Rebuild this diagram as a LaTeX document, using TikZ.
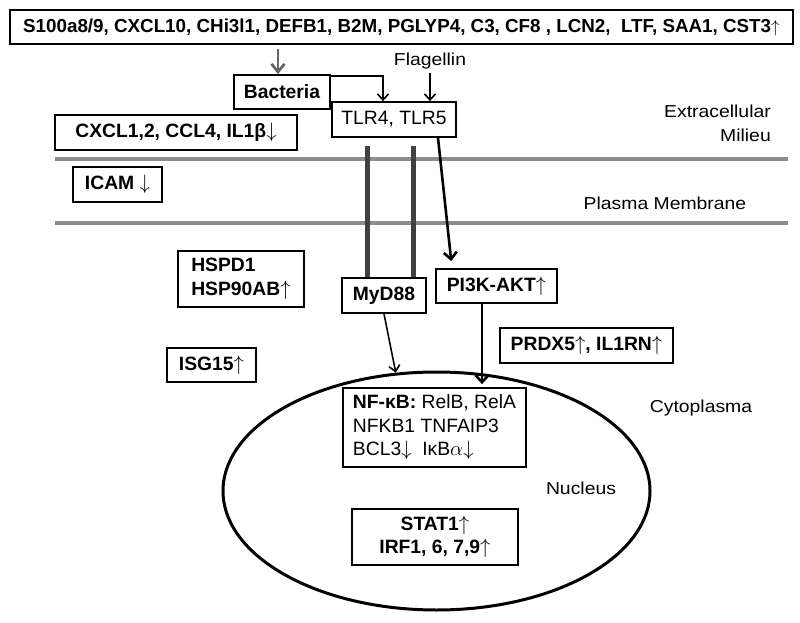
\documentclass[tikz,border=0pt]{standalone}
\usepackage{fontspec}
\setmainfont{Liberation Sans}
\newfontfamily\widefont{Liberation Sans}[FakeStretch=1.12]
\usetikzlibrary{arrows.meta,shapes.geometric}

\newcommand{\up}{\ensuremath{\uparrow}}
\newcommand{\dn}{\ensuremath{\downarrow}}

\tikzset{
  box/.style={draw, line width=1.8pt, inner sep=0pt, align=center,
    font=\bfseries\fontsize{19.3}{23.5}\selectfont},
  rbox/.style={box, font=\fontsize{19.3}{23.5}\selectfont},
  lab/.style={inner sep=0pt, font=\widefont\fontsize{17.3}{24}\selectfont},
  arr/.style={line width=1.6pt, -{Straight Barb[length=6pt,width=11pt,line width=1.6pt]}},
  thickarr/.style={line width=2.6pt, -{Straight Barb[length=7pt,width=13pt,line width=2.6pt]}},
  grayarr/.style={line width=2.8pt, black!60, -{Straight Barb[length=8pt,width=13pt,line width=2.8pt]}},
  membrane/.style={black!45, line width=3.5pt},
  bar/.style={black!75, line width=5pt},
}

\begin{document}
\begin{tikzpicture}[x=1pt,y=-1pt]
  \useasboundingbox (0,0) rectangle (800,623);

  \node[box, minimum width=783, minimum height=34, font=\bfseries\fontsize{18.8}{22}\selectfont]
    (top) at (401.5,27) {S100a8/9, CXCL10, CHi3l1, DEFB1, B2M, PGLYP4, C3, CF8 , LCN2,\ \ LTF, SAA1, CST3\up}; %top list
  \node[box, minimum width=96, minimum height=34] (bact) at (282,92) {Bacteria};
  \node[rbox, minimum width=124, minimum height=35] (tlr) at (394,119.5) {TLR4, TLR5};
  \node[lab] (flag) at (430,61) {Flagellin};
  \node[lab, anchor=east, align=right] (milieu) at (771,123) {Extracellular\\Milieu};
  \node[box, minimum width=242, minimum height=35] (cxcl) at (176,132.5) {CXCL1,2, CCL4, IL1β\dn};

  \draw[membrane] (55,159) -- (788,159); %outer line
  \draw[membrane] (55,223) -- (788,223); %inner line
  \node[box, minimum width=89, minimum height=35] (icam) at (117.5,184.5) {ICAM \dn};
  \node[lab] (plasma) at (665,203) {Plasma Membrane};

  \node[box, minimum width=84, minimum height=35] (myd) at (384,295.5) {MyD88};
  \node[box, minimum width=121, minimum height=34] (pi3k) at (496.5,286) {PI3K-AKT\up};
  \node[box, minimum width=126, minimum height=56, align=left] (hsp) at (241,279) {HSPD1\\HSP90AB\up};
  \node[box, minimum width=89, minimum height=34] (isg) at (211.5,365) {ISG15\up};
  \node[box, minimum width=173, minimum height=35] (prdx) at (586.5,345.5) {PRDX5\up, IL1RN\up};

  \node[draw, ellipse, line width=3pt, minimum width=427, minimum height=238] (nuc) at (436.5,491) {}; %nucleus
  \node[lab] (cyto) at (701,408) {Cytoplasma};
  \node[lab] (nuclab) at (581,488) {Nucleus};
  \node[rbox, minimum width=183, minimum height=79, align=left] (nfkb) at (434.5,427.5)
    {\textbf{NF-κB:} RelB, RelA\\NFKB1 TNFAIP3\\BCL3\dn\ \ Iκ{}B$\alpha$\dn};
  \node[box, minimum width=166, minimum height=56] (stat) at (435,537) {STAT1\up\\IRF1, 6, 7,9\up};

  \coordinate (b1) at (367,146); %receptor bars
  \coordinate (b2) at (413,146);
  \foreach \P in {b1,b2} \draw[bar] (\P) -- (\P |- myd.north);

  \draw[grayarr, shorten <=4pt] ([xshift=-4pt]top.south -| bact.north) -- ([xshift=-4pt]bact.north);
  \draw[arr] ([yshift=-2pt]bact.north east) -| ([xshift=-11pt]tlr.north);
  \draw[arr, shorten <=4pt] (flag.south) -- (flag.south |- tlr.north);
  \draw[thickarr, shorten >=7pt] ([xshift=44pt]tlr.south) -- ([xshift=-44.5pt]pi3k.north);
  \draw[arr] (myd.south) -- (nuc.109);
  \coordinate (p) at ([xshift=-14.5pt]pi3k.south);
  \draw[thickarr, shorten >=3pt] (p) -- (p |- nfkb.north);
\end{tikzpicture}
\end{document}
